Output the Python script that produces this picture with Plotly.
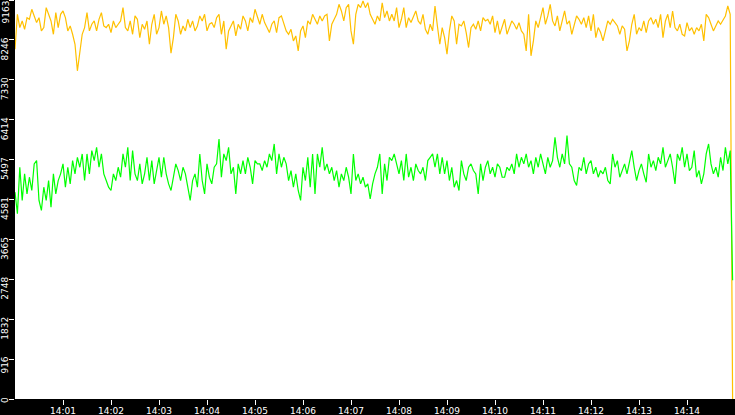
import pandas as pd
import plotly.graph_objects as go

# Serie amarilla (arriba) y verde (abajo), una muestra cada 3 s desde las 14:00:00
serie_amarilla = [
    8033, 8835, 8529, 8682, 8491, 8758, 8720, 8950, 8797, 8644,
    8758, 8453, 8529, 8987, 8835, 8682, 8376, 8873, 8529, 8835,
    8911, 8758, 8453, 8567, 8376, 8147, 7537, 7995, 8376, 8529,
    8873, 8453, 8606, 8682, 8453, 8720, 8873, 8567, 8529, 8606,
    8415, 8682, 8529, 8606, 8682, 8987, 8529, 8453, 8682, 8376,
    8797, 8720, 8300, 8606, 8491, 8682, 8147, 8606, 8835, 8376,
    8529, 8911, 8606, 8797, 8529, 7941, 8300, 8835, 8682, 8376,
    8567, 8453, 8720, 8529, 8682, 8453, 8567, 8797, 8682, 8835,
    8453, 8606, 8644, 8529, 8758, 8835, 8376, 8682, 8033, 8453,
    8567, 8682, 8338, 8606, 8491, 8797, 8682, 8453, 8758, 8644,
    8950, 8758,
    8606, 8835, 8644, 8529, 8415, 8606, 8682, 8415, 8758, 8797,
    8606, 8453, 8376, 8491, 8224, 8338, 7995, 8453, 8567, 8300,
    8682, 8606, 8835, 8720, 8606, 8797, 8682, 8797, 8835, 8224,
    8606, 8720, 8835, 9064, 8911, 8682, 8987, 9064, 8453, 8147,
    8835, 9064, 8987, 9140, 8987, 9100, 8835, 8720, 8606, 8797,
    8682, 9100, 8758, 8911, 8682, 8835, 8682, 8987, 8529, 8720,
    8987, 8529, 8758, 8644, 8797, 8911, 8682, 8606, 8835, 8491,
    8376, 8606, 8453, 9026, 8567, 8147, 8529, 8300, 7919, 8453,
    8797, 8682, 8147, 8606, 8567, 8682, 8415, 8071, 8529, 8606,
    8491, 8682, 8453, 8758, 8682, 8720, 8606, 8797, 8415, 8682,
    8376, 8529,
    8720, 8376, 8529, 8682, 8606, 8491, 8644, 8453, 8376, 7995,
    8835, 7881, 8224, 8682, 8529, 8758, 8987, 8606, 8797, 9064,
    8682, 8567, 8797, 8453, 8682, 8911, 8606, 8682, 8376, 8606,
    8797, 8720, 8606, 8758, 8529, 8797, 8453, 8835, 8300, 8529,
    8415, 8224, 8491, 8682, 8606, 8720, 8644, 8567, 8376, 8567,
    8491, 7995, 8224, 8606, 8835, 8376, 8529, 8453, 8682, 8415,
    8682, 8758, 8606, 8720, 8529, 8835, 8300, 8682, 8835, 8529,
    8911, 8529, 8453, 8606, 8376, 8338, 8644, 8453, 8529, 8376,
    8529, 8453, 8606, 8224, 8835, 8758, 8606, 8453, 8567, 8682,
    8606, 8720, 8797, 9026, 8835, 0,
]

serie_verde = [
    4750, 4253, 5322, 4559, 5170, 4711, 5093, 4788, 5399, 5475,
    4559, 4330, 4864, 4559, 5017, 4406, 5170, 4711, 5017, 5170,
    5399, 4864, 5322, 4940, 5475, 5170, 5551, 5322, 5628, 5017,
    5628, 5170, 5704, 5475, 5780, 5322, 5628, 5170, 5017, 4864,
    4788, 5170, 5017, 5322, 5093, 5628, 5322, 5780, 5017, 5704,
    5170, 5017, 5399, 4940, 5170, 5551, 5017, 5475, 4940, 5246,
    5551, 5093, 5551, 5170, 4940, 4788, 5093, 5399, 5246, 5017,
    5322, 5170, 4864, 4559, 5017, 5170, 4864, 5628, 5017, 4711,
    5399, 5093, 4940, 5322, 5399, 5970, 5093, 5628, 5475, 5780,
    5170, 5322, 4711, 5399, 5170, 5475, 5170, 5551, 5322, 4940,
    5475, 5399,
    5399, 5246, 5475, 5322, 5628, 5475, 5857, 5170, 5628, 5322,
    5551, 5399, 5017, 5246, 4864, 5170, 4788, 4559, 5322, 5017,
    5551, 4864, 5628, 4711, 5628, 5322, 5780, 5246, 5399, 5170,
    5322, 5017, 5246, 4864, 5170, 5017, 5322, 5093, 4711, 5628,
    5017, 5170, 4940, 5093, 4864, 4940, 4597, 4940, 5170, 5322,
    5628, 4711, 5399, 5017, 5551, 5475, 5628, 5399, 5170, 5475,
    5017, 5628, 5093, 5322, 5017, 5399, 5246, 5170, 5322, 5017,
    5475, 5551, 5628, 5322, 5628, 5170, 5551, 5170, 5475, 5017,
    5322, 4864, 5017, 4788, 5475, 5170, 5017, 5322, 5399, 5246,
    5170, 4711, 5399, 5017, 5322, 5475, 5170, 5322, 5093, 5399,
    5322, 5093,
    5093, 5322, 5246, 5399, 5170, 5628, 5322, 5551, 5399, 5628,
    5322, 5475, 5170, 5551, 5322, 5628, 5399, 5170, 5551, 5322,
    5475, 6010, 5551, 5322, 5628, 5399, 6048, 5399, 5322, 5017,
    4902, 5322, 5246, 5551, 5170, 5399, 5475, 5170, 5322, 5093,
    5246, 5170, 5322, 5017, 4940, 5628, 5322, 5475, 5093, 5246,
    5399, 5170, 5475, 5704, 5322, 5017, 5246, 5399, 5170, 4978,
    5628, 5322, 5475, 5246, 5551, 5399, 5780, 5322, 5475, 5628,
    5322, 4940, 5628, 5475, 5780, 5322, 5628, 5246, 5322, 5704,
    5093, 5246, 4940, 5170, 5628, 5857, 5399, 5170, 5322, 5093,
    5551, 5246, 5780, 5399, 5704, 2726,
]

# Marcas del eje Y (escala 0 .. 9163 en 10 pasos) y del eje X
y_max = 9163
y_etiquetas = ['0', '916', '1832', '2748', '3665', '4581', '5497', '6414', '7330', '8246', '9163']
x_minutos = ['14:01', '14:02', '14:03', '14:04', '14:05', '14:06', '14:07',
             '14:08', '14:09', '14:10', '14:11', '14:12', '14:13', '14:14']

dia = '2024-01-01 '
t_amarilla = pd.date_range(dia + '14:00:00', periods=len(serie_amarilla), freq='3s')
t_verde = pd.date_range(dia + '14:00:00', periods=len(serie_verde), freq='3s')
y_marcas = [i * y_max / 10 for i in range(len(y_etiquetas))]

fig = go.Figure()
fig.add_trace(go.Scatter(
    x=t_amarilla, y=serie_amarilla, mode='lines',
    line=dict(color='#FFC000', width=1.2), hoverinfo='skip'
))
fig.add_trace(go.Scatter(
    x=t_verde, y=serie_verde, mode='lines',
    line=dict(color='#00FF00', width=1.2), hoverinfo='skip'
))

# etiquetas del eje Y giradas, colgando justo debajo de cada marca
for valor, etiqueta in zip(y_marcas, y_etiquetas):
    fig.add_annotation(
        x=0, xref='paper', xanchor='right', xshift=-4,
        y=valor, yref='y', yanchor='top',
        yshift=0 if valor >= y_max else 3,  # la de arriba no se sale
        text=etiqueta, textangle=-90, showarrow=False,
        borderpad=0, font=dict(size=9, color='white'),
    )

fig.update_layout(
    width=735, height=415,
    margin=dict(l=15, r=0, t=0, b=16, pad=0),
    paper_bgcolor='black', plot_bgcolor='white',
    showlegend=False,
    font=dict(family='DejaVu Sans', color='white'),
)
fig.update_xaxes(
    range=[pd.Timestamp(dia + '14:00:00'), pd.Timestamp(dia + '14:15:00')],
    tickvals=[pd.Timestamp(dia + m + ':00') for m in x_minutos],
    ticktext=x_minutos,
    ticks='outside', ticklen=5, tickcolor='white', tickwidth=1,
    tickfont=dict(size=9, color='white'),
    ticklabelstandoff=-2,
    showgrid=False, zeroline=False, showline=False, automargin=False,
)
fig.update_yaxes(
    range=[0, y_max],
    tickvals=y_marcas,
    showticklabels=False,
    ticks='outside', ticklen=5, tickcolor='white', tickwidth=1,
    showgrid=False, zeroline=False, showline=False, automargin=False,
)

# quitar el margen del body para que la figura empiece en (0, 0)
fig.write_html('out.html', config={'displayModeBar': False},
               post_script="document.body.style.margin='0';")
